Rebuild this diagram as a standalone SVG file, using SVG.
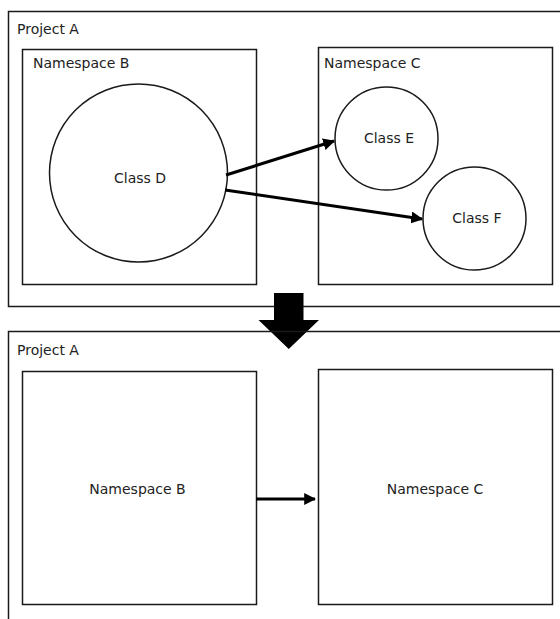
<svg xmlns="http://www.w3.org/2000/svg" width="560" height="619" viewBox="0 0 560 619">
  <style>
    .box { fill: none; stroke: #1a1a1a; stroke-width: 1.5; }
    .cls { fill: #fff; stroke: #1a1a1a; stroke-width: 1.5; }
    .lbl { font-family: "DejaVu Sans", "Liberation Sans", sans-serif; font-size: 14px; fill: #222; }
    .mid { text-anchor: middle; }
    .edge { stroke: #000; stroke-width: 3; fill: none; }
  </style>
  <defs>
    <marker id="head" viewBox="0 0 10 10" refX="9" refY="5" markerWidth="4" markerHeight="4" orient="auto" markerUnits="strokeWidth">
      <path d="M0,0 L10,5 L0,10 Z" fill="#000"/>
    </marker>
  </defs>
  <rect width="560" height="619" fill="#fff"/>

  <!-- Before: project with class-level dependencies -->
  <g id="project-before">
    <path class="box" d="M565,11.5 H8.5 V306.5 H565"/>
    <text class="lbl" x="17" y="34">Project A</text>
  </g>
  <g id="namespace-b-before">
    <rect class="box" x="22.5" y="49.5" width="234" height="235"/>
    <text class="lbl" x="33" y="68">Namespace B</text>
  </g>
  <g id="namespace-c-before">
    <rect class="box" x="318.5" y="47.5" width="234" height="237"/>
    <text class="lbl" x="324" y="68">Namespace C</text>
  </g>
  <g id="class-d">
    <circle class="cls" cx="138.5" cy="173" r="89"/>
    <text class="lbl mid" x="140" y="183">Class D</text>
  </g>
  <g id="class-e">
    <circle class="cls" cx="386.5" cy="138.5" r="51.5"/>
    <text class="lbl mid" x="389" y="143">Class E</text>
  </g>
  <g id="class-f">
    <circle class="cls" cx="474.5" cy="218.5" r="51.5"/>
    <text class="lbl mid" x="477" y="223">Class F</text>
  </g>

  <!-- Transformation arrow -->
  <g id="transform-arrow">
    <path d="M274,293 H303.5 V320 H319 L288.75,349 L258.5,320 H274 Z" fill="#000"/>
  </g>

  <!-- After: project with namespace-level dependency -->
  <g id="project-after">
    <path class="box" d="M565,331.5 H8.5 V625"/>
    <text class="lbl" x="17" y="355">Project A</text>
  </g>
  <g id="namespace-b-after">
    <rect class="box" x="22.5" y="371.5" width="234" height="233"/>
    <text class="lbl mid" x="137.5" y="494">Namespace B</text>
  </g>
  <g id="namespace-c-after">
    <rect class="box" x="318.5" y="369.5" width="234" height="235"/>
    <text class="lbl mid" x="435" y="494">Namespace C</text>
  </g>

  <g id="connectors">
    <line class="edge" x1="226" y1="175" x2="334" y2="141" marker-end="url(#head)"/>
    <line class="edge" x1="225" y1="190" x2="422" y2="219" marker-end="url(#head)"/>
    <line class="edge" x1="256" y1="499" x2="315" y2="499" marker-end="url(#head)"/>
  </g>
</svg>
